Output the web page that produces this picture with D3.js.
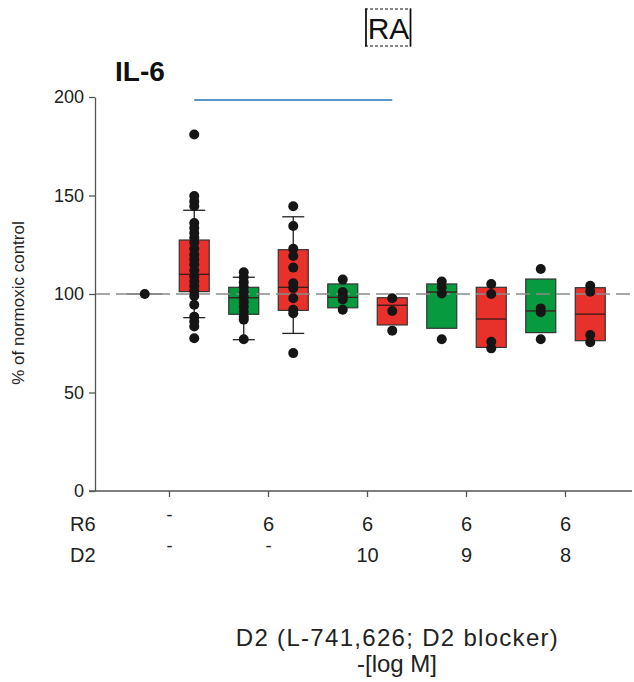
<!DOCTYPE html>
<html>
<head>
<meta charset="utf-8">
<script src="https://cdn.jsdelivr.net/npm/d3@7"></script>
<style>
  html, body { margin: 0; padding: 0; background: #fff; }
  svg { display: block; font-family: "Liberation Sans", Arial, sans-serif; }
</style>
</head>
<body>
<svg id="chart" width="634" height="682"></svg>
<script>
// Treatment groups along the x axis
const groupR6 = ["-", "6", "6", "6", "6"];
const groupD2 = ["-", "-", "10", "9", "8"];

// Normoxia series (first group is the normoxic control itself, all at 100 %)
const normoxiaQ1     = [100, 89.7, 93.0, 82.6, 80.4];
const normoxiaMedian = [100, 98.1, 98.3, 101.0, 91.4];
const normoxiaQ3     = [100, 103.4, 105.1, 105.1, 107.6];
const normoxiaWhiskerLow  = [null, 76.8, null, null, null];
const normoxiaWhiskerHigh = [null, 108.5, null, null, null];
const normoxiaPoints = [
  [100],
  [111, 108.5, 106, 103.5, 101, 98.5, 96, 93.5, 91, 88.5, 87, 77],
  [107.3, 101, 99, 97.2, 92],
  [106.3, 103.4, 100.3, 77],
  [112.7, 92.7, 90.7, 77]
];

// Hypoxia series
const hypoxiaQ1     = [101.2, 91.7, 84.3, 72.9, 76.3];
const hypoxiaMedian = [110.0, 103.4, 94.3, 87.3, 89.8];
const hypoxiaQ3     = [127.4, 122.5, 98.1, 103.4, 103.2];
const hypoxiaWhiskerLow  = [88.0, 80.0, null, null, null];
const hypoxiaWhiskerHigh = [142.5, 139.2, null, null, null];
const hypoxiaPoints = [
  [181, 149.7, 147, 144.5, 136, 133.5, 131, 128.5, 126, 123, 120, 117.5, 115, 112,
   109, 106.5, 104, 101.5, 99, 94.5, 88.5, 86, 83.5, 77.5],
  [144.5, 134.5, 123, 119.3, 113.4, 105.5, 103, 97.8, 92, 90.2, 70],
  [97.8, 91.4, 81.4],
  [105.1, 100, 75.8, 72.4],
  [104.2, 101.2, 79.2, 75.5]
];

// y tick values and the significance bar (hypoxia control vs. R6 + D2 10)
const yTicks = [0, 50, 100, 150, 200];
const sigBar = { from: 0, to: 2, value: 198.5 };

const svg = d3.select("#chart");
const axisColor = "#555";
const boxStroke = "#333";
const colors = { normoxia: "#079a3f", hypoxia: "#e8312b" };

const y = d3.scaleLinear().domain([0, 200]).range([491, 97]);
const gx = d3.scaleBand().domain(d3.range(groupR6.length)).range([120, 615]);
const sub = d3.scaleBand().domain(["normoxia", "hypoxia"]).range([0, gx.bandwidth()]);
const cx = (g, s) => gx(g) + sub(s) + sub.bandwidth() / 2;
const boxW = 30, capW = 22, dotR = 5;

// Build one record per box
const boxes = [];
groupR6.forEach((_, i) => {
  boxes.push({ g: i, s: "normoxia", q1: normoxiaQ1[i], med: normoxiaMedian[i], q3: normoxiaQ3[i],
    lo: normoxiaWhiskerLow[i], hi: normoxiaWhiskerHigh[i], pts: normoxiaPoints[i], control: i === 0 });
  boxes.push({ g: i, s: "hypoxia", q1: hypoxiaQ1[i], med: hypoxiaMedian[i], q3: hypoxiaQ3[i],
    lo: hypoxiaWhiskerLow[i], hi: hypoxiaWhiskerHigh[i], pts: hypoxiaPoints[i], control: false });
});

// Y axis
const yAxis = svg.append("g").attr("transform", "translate(95,0)")
  .call(d3.axisLeft(y).tickValues(yTicks).tickSize(6).tickPadding(5).tickSizeOuter(0));
yAxis.select(".domain").attr("stroke", axisColor).attr("stroke-width", 1.3);
yAxis.selectAll(".tick line").attr("stroke", axisColor).attr("stroke-width", 1.3);
yAxis.selectAll(".tick text").attr("font-size", 18).attr("fill", "#222")
  .attr("font-family", "Liberation Sans, Arial, sans-serif");

// X axis
svg.append("line").attr("x1", 89).attr("x2", 632).attr("y1", y(0)).attr("y2", y(0))
  .attr("stroke", axisColor).attr("stroke-width", 1.3);
svg.append("g").selectAll("line").data(groupR6).join("line")
  .attr("x1", (d, i) => gx(i) + gx.bandwidth() / 2).attr("x2", (d, i) => gx(i) + gx.bandwidth() / 2)
  .attr("y1", y(0)).attr("y2", y(0) + 6)
  .attr("stroke", axisColor).attr("stroke-width", 1.3);

// Boxes
const bx = svg.append("g");
boxes.filter(b => !b.control).forEach(b => {
  const c = cx(b.g, b.s);
  if (b.hi != null) {
    bx.append("line").attr("x1", c).attr("x2", c).attr("y1", y(b.q3)).attr("y2", y(b.hi))
      .attr("stroke", "#222").attr("stroke-width", 1.3);
    bx.append("line").attr("x1", c - capW / 2).attr("x2", c + capW / 2).attr("y1", y(b.hi)).attr("y2", y(b.hi))
      .attr("stroke", "#222").attr("stroke-width", 1.3);
  }
  if (b.lo != null) {
    bx.append("line").attr("x1", c).attr("x2", c).attr("y1", y(b.q1)).attr("y2", y(b.lo))
      .attr("stroke", "#222").attr("stroke-width", 1.3);
    bx.append("line").attr("x1", c - capW / 2).attr("x2", c + capW / 2).attr("y1", y(b.lo)).attr("y2", y(b.lo))
      .attr("stroke", "#222").attr("stroke-width", 1.3);
  }
  bx.append("rect").attr("x", c - boxW / 2).attr("width", boxW)
    .attr("y", y(b.q3)).attr("height", y(b.q1) - y(b.q3))
    .attr("fill", colors[b.s]).attr("stroke", boxStroke).attr("stroke-width", 1.2);
});

// Reference line at 100 %
svg.append("line").attr("x1", 96).attr("x2", 634).attr("y1", y(100)).attr("y2", y(100))
  .attr("stroke", "#8a8a8a").attr("stroke-width", 1.4).attr("stroke-dasharray", "14,6");

// Medians (control group drawn as a flat box)
boxes.forEach(b => {
  const c = cx(b.g, b.s);
  bx.append("line").attr("x1", c - boxW / 2 - (b.control ? 3 : 0)).attr("x2", c + boxW / 2 + (b.control ? 3 : 0))
    .attr("y1", y(b.med)).attr("y2", y(b.med))
    .attr("stroke", b.control ? "#666" : "#3a1a1a").attr("stroke-width", 1.3);
});

// Individual values
const dots = svg.append("g");
boxes.forEach(b => {
  dots.selectAll(null).data(b.pts).join("circle")
    .attr("cx", cx(b.g, b.s)).attr("cy", d => y(d)).attr("r", dotR).attr("fill", "#151515");
});

// Significance bar
svg.append("line")
  .attr("x1", cx(sigBar.from, "hypoxia")).attr("x2", cx(sigBar.to, "hypoxia"))
  .attr("y1", y(sigBar.value)).attr("y2", y(sigBar.value))
  .attr("stroke", "#2472b8").attr("stroke-width", 1.6);

// Y axis title
svg.append("text").attr("transform", "translate(24,303) rotate(-90)")
  .attr("text-anchor", "middle").attr("font-size", 17).attr("fill", "#222")
  .text("% of normoxic control");

// Chart title
svg.append("text").attr("x", 115).attr("y", 81).attr("font-size", 28).attr("font-weight", "bold")
  .attr("fill", "#111").text("IL-6");

// Panel label
const ra = svg.append("g");
ra.append("text").attr("x", 388.5).attr("y", 39).attr("text-anchor", "middle")
  .attr("font-size", 30).attr("fill", "#111").text("RA");
ra.append("line").attr("x1", 365).attr("x2", 411).attr("y1", 9).attr("y2", 9)
  .attr("stroke", "#111").attr("stroke-width", 1.2).attr("stroke-dasharray", "3,2");
ra.append("line").attr("x1", 365).attr("x2", 411).attr("y1", 46).attr("y2", 46)
  .attr("stroke", "#111").attr("stroke-width", 1.2).attr("stroke-dasharray", "3,2");
ra.append("line").attr("x1", 366).attr("x2", 366).attr("y1", 8.5).attr("y2", 46.5)
  .attr("stroke", "#111").attr("stroke-width", 1.8);
ra.append("line").attr("x1", 410.5).attr("x2", 410.5).attr("y1", 8.5).attr("y2", 46.5)
  .attr("stroke", "#111").attr("stroke-width", 1.8);

// Treatment table under the x axis; dashes sit a little higher than digits
const rows = [{ name: "R6", vals: groupR6, yb: 531 }, { name: "D2", vals: groupD2, yb: 562 }];
rows.forEach(r => {
  svg.append("text").attr("x", 70).attr("y", r.yb).attr("font-size", 20).attr("fill", "#222").text(r.name);
  svg.append("g").selectAll("text").data(r.vals).join("text")
    .attr("x", (d, i) => gx(i) + gx.bandwidth() / 2)
    .attr("y", d => d === "-" ? r.yb - 10.5 : r.yb)
    .attr("text-anchor", "middle").attr("font-size", d => d === "-" ? 18 : 20)
    .attr("fill", "#222").text(d => d);
});

// X axis title
svg.append("text").attr("x", 397.5).attr("y", 646).attr("text-anchor", "middle")
  .attr("font-size", 24).attr("letter-spacing", 1.3).attr("fill", "#222").text("D2 (L-741,626; D2 blocker)");
svg.append("text").attr("x", 397).attr("y", 672).attr("text-anchor", "middle")
  .attr("font-size", 24).attr("fill", "#222").text("-[log M]");
</script>
</body>
</html>
